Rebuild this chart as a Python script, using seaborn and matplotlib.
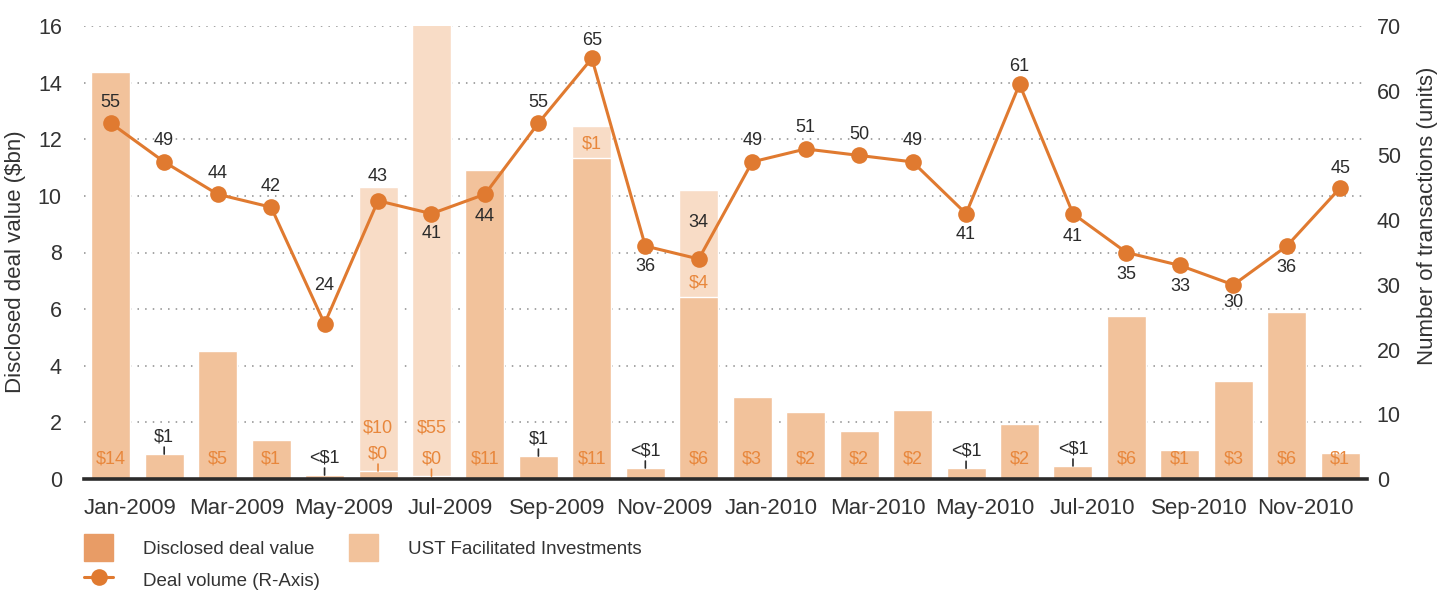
import numpy as np
import pandas as pd
import matplotlib
matplotlib.use("Agg")
import matplotlib.pyplot as plt
import seaborn as sns
from matplotlib.transforms import ScaledTranslation
from matplotlib.patches import Patch
from matplotlib.lines import Line2D

# ---------------- data ----------------
months = ["Jan-2009", "Feb-2009", "Mar-2009", "Apr-2009", "May-2009", "Jun-2009",
          "Jul-2009", "Aug-2009", "Sep-2009", "Oct-2009", "Nov-2009", "Dec-2009",
          "Jan-2010", "Feb-2010", "Mar-2010", "Apr-2010", "May-2010", "Jun-2010",
          "Jul-2010", "Aug-2010", "Sep-2010", "Oct-2010", "Nov-2010", "Dec-2010"]
disclosed = [14.38, 0.88, 4.52, 1.38, 0.14, 0.28, 0.10, 10.92, 0.81, 11.34, 0.39, 6.43,
             2.90, 2.37, 1.70, 2.44, 0.38, 1.94, 0.46, 5.76, 1.02, 3.46, 5.90, 0.92]
ust = [0, 0, 0, 0, 0, 10.04, 55.0, 0, 0, 1.13, 0, 3.78,
       0, 0, 0, 0, 0, 0, 0, 0, 0, 0, 0, 0]
volume = [55, 49, 44, 42, 24, 43, 41, 44, 55, 65, 36, 34,
          49, 51, 50, 49, 41, 61, 41, 35, 33, 30, 36, 45]
disc_labels = ["$14", "$1", "$5", "$1", "<$1", "$0", "$0", "$11", "$1", "$11", "<$1", "$6",
               "$3", "$2", "$2", "$2", "<$1", "$2", "<$1", "$6", "$1", "$3", "$6", "$1"]
ust_labels = ["", "", "", "", "", "$10", "$55", "", "", "$1", "", "$4",
              "", "", "", "", "", "", "", "", "", "", "", ""]
tick_labels = months[::2]
left_ticks = list(range(0, 17, 2))
right_ticks = list(range(0, 71, 10))

# ---------------- style ----------------
DISC_C = "#F2C29B"
UST_C = "#F8DCC6"
LEG_DISC = "#E89C66"
LEG_UST = "#F2C29B"
LINE_C = "#E07A30"
ORANGE_T = "#E8873C"
DARK = "#2b2b2b"
# volume label offsets in pixels (positive = above)
vol_offsets = [21, 21, 21, 21, 38, 24, -20, -22, 21, 18, -20, 36,
               21, 21, 21, 21, -21, 18, -23, -22, -21, -18, -21, 19]

sns.set_style("white")
plt.rcParams["font.family"] = ["Liberation Sans", "DejaVu Sans"]

W, H = 1455, 593
fig = plt.figure(figsize=(W / 100, H / 100), dpi=100)
ax = fig.add_axes([84 / W, 1 - 479 / H, (1367 - 84) / W, (479 - 26) / H])

x = np.arange(len(months))
df = pd.DataFrame({"month": months,
                   "disclosed": disclosed,
                   "total": np.array(disclosed) + np.array(ust)})

sns.barplot(data=df, x="month", y="total", color=UST_C, saturation=1,
            width=0.73, ax=ax, zorder=2)
sns.barplot(data=df, x="month", y="disclosed", color=DISC_C, saturation=1,
            width=0.73, ax=ax, zorder=3)

ax.set_ylim(0, 16)
ax.set_xlim(-0.5, len(months) - 0.5)
ax.set_yticks(left_ticks)
ax.set_xticks(x[::2])
ax.set_xticklabels(tick_labels)
ax.set_xlabel("")
ax.set_ylabel("Disclosed deal value ($bn)", fontsize=16, color="#333333")
ax.yaxis.set_label_coords(-0.045, 0.48)
ax.yaxis.grid(True, color="#8c8c8c", linestyle=(0, (1, 4)), linewidth=1.1)
ax.xaxis.grid(False)
ax.set_axisbelow(True)
for s in ["left", "right", "top"]:
    ax.spines[s].set_visible(False)
ax.spines["bottom"].set_linewidth(2.6)
ax.spines["bottom"].set_color(DARK)
ax.spines["bottom"].set_zorder(6)
ax.tick_params(axis="y", length=0, labelsize=15.5, colors="#333333", pad=16)
ax.tick_params(axis="x", length=0, labelsize=16, colors="#333333", pad=14)
for lab in ax.get_xticklabels():
    lab.set_transform(lab.get_transform() + ScaledTranslation(0.19, 0, fig.dpi_scale_trans))

# bar labels
for i in range(len(months)):
    d = disclosed[i]
    if d >= 0.9:
        ax.annotate(disc_labels[i], (i, 0), xytext=(0, 20), textcoords="offset pixels",
                    ha="center", va="center", color=ORANGE_T, fontsize=13, zorder=5)
        if ust_labels[i]:
            ax.annotate(ust_labels[i], (i, d), xytext=(0, 14), textcoords="offset pixels",
                        ha="center", va="center", color=ORANGE_T, fontsize=13, zorder=5)
    else:
        col = ORANGE_T if ust[i] > 0 else DARK
        ax.annotate(disc_labels[i], (i, d), xytext=(0, 17), textcoords="offset pixels",
                    ha="center", va="center", color=col, fontsize=13, zorder=5)
        ax.annotate("", xy=(i, d), xytext=(0, 7), textcoords="offset pixels",
                    arrowprops=dict(arrowstyle="-", color=col, lw=1.2,
                                    shrinkA=0, shrinkB=0), zorder=5)
        if ust_labels[i]:
            ax.annotate(ust_labels[i], (i, 0), xytext=(0, 51), textcoords="offset pixels",
                        ha="center", va="center", color=ORANGE_T, fontsize=13, zorder=5)

# line on right axis
ax2 = ax.twinx()
sns.lineplot(x=x, y=volume, ax=ax2, color=LINE_C, marker="o", markersize=12,
             markeredgewidth=0, linewidth=2.2, legend=False, zorder=4)
ax2.set_ylim(0, 70)
ax2.set_yticks(right_ticks)
ax2.grid(False)
for s in ["left", "right", "top", "bottom"]:
    ax2.spines[s].set_visible(False)
ax2.tick_params(axis="y", length=0, labelsize=15.5, colors="#333333", pad=7)
ax2.set_ylabel("Number of transactions (units)", fontsize=16, color="#333333")
ax2.yaxis.set_label_coords(1.039, 0.58)
ax2.set_xlim(-0.5, len(months) - 0.5)

for i, v in enumerate(volume):
    ax2.annotate(str(v), (i, v), xytext=(0, vol_offsets[i]), textcoords="offset pixels",
                 ha="center", va="center", color=DARK, fontsize=13)

# legend
handles = [Patch(color=LEG_DISC),
           Line2D([0], [0], color=LINE_C, marker="o", markersize=12, markeredgewidth=0, lw=2.2),
           Patch(color=LEG_UST)]
labels = ["Disclosed deal value", "Deal volume (R-Axis)", "UST Facilitated Investments"]
fig.legend(handles=handles, labels=labels, ncol=2, loc="upper left",
           bbox_to_anchor=(84 / W, 1 - 534 / H), frameon=False, fontsize=13.5,
           handlelength=1.55, handleheight=1.85, handletextpad=1.6,
           columnspacing=1.57, labelspacing=0.3, borderaxespad=0, borderpad=0,
           labelcolor="#333333")

fig.savefig("out.png", dpi=100)
